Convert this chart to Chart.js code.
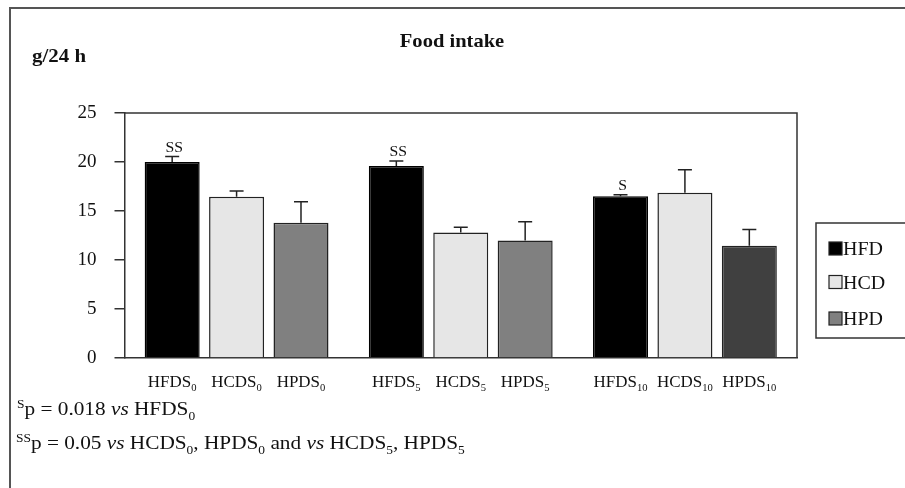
<!DOCTYPE html>
<html>
<head>
<meta charset="utf-8">
<script src="https://cdn.jsdelivr.net/npm/chart.js@4.4.1/dist/chart.umd.min.js"></script>
<style>
  html, body { margin: 0; padding: 0; background: #fff; }
  #wrap { width: 905px; height: 488px; position: relative; }
</style>
</head>
<body>
<div id="wrap"><canvas id="chart" width="905" height="488"></canvas></div>
<script>
// Food intake (g/24 h) per diet group at S0, S5, S10
const weeks = ['0', '5', '10'];
const diets = ['HFD', 'HCD', 'HPD'];
const hfdMeans = [20.0, 19.6, 16.5];
const hcdMeans = [16.45, 12.8, 16.85];
const hpdMeans = [13.8, 12.0, 11.45];
const hfdErrors = [0.55, 0.5, 0.15];
const hcdErrors = [0.6, 0.55, 2.35];
const hpdErrors = [2.15, 1.9, 1.65];
const hfdMarks = ['SS', 'SS', 'S'];
const yTicks = [0, 5, 10, 15, 20, 25];

const SERIF = '"Liberation Serif", "Times New Roman", serif';
const INK = '#222';

/**
 * Draw a run of text pieces (normal / sub / sup / italic), stretched by sx
 */
function drawRich(ctx, parts, x, y, size, align, sx = 1) {
  const fontFor = (p) => {
    const s = p.sub || p.sup ? Math.round(size * 0.62) : size;
    return `${p.italic ? 'italic ' : ''}${p.bold ? 'bold ' : ''}${s}px ${SERIF}`;
  };
  let total = 0;
  parts.forEach(p => {
    ctx.font = fontFor(p);
    total += ctx.measureText(p.t).width;
  });
  ctx.save();
  ctx.translate(x, 0);
  ctx.scale(sx, 1);
  let cx = align === 'center' ? -total / 2 : 0;
  ctx.textAlign = 'left';
  ctx.textBaseline = 'alphabetic';
  parts.forEach(p => {
    ctx.font = fontFor(p);
    let dy = 0;
    if (p.sub) dy = size * 0.25;
    if (p.sup) dy = -size * 0.38;
    ctx.fillText(p.t, cx, y + dy);
    cx += ctx.measureText(p.t).width;
  });
  ctx.restore();
}

const errorsByDataset = [hfdErrors, hcdErrors, hpdErrors];

const decorPlugin = {
  id: 'decor',
  afterDatasetsDraw(chart) {
    const { ctx, scales: { y } } = chart;
    ctx.save();
    chart.data.datasets.forEach((ds, di) => {
      const meta = chart.getDatasetMeta(di);
      meta.data.forEach((bar, i) => {
        const top = y.getPixelForValue(ds.data[i] + errorsByDataset[di][i]);
        // upper error bar
        ctx.strokeStyle = INK;
        ctx.lineWidth = 1.5;
        ctx.beginPath();
        ctx.moveTo(bar.x, bar.y);
        ctx.lineTo(bar.x, top);
        ctx.moveTo(bar.x - 7, top);
        ctx.lineTo(bar.x + 7, top);
        ctx.stroke();
        // significance marks
        if (di === 0) {
          ctx.fillStyle = '#111';
          drawRich(ctx, [{ t: hfdMarks[i] }], bar.x + 2, top - 5, 15, 'center', 1.05);
        }
        // bar label with subscript
        ctx.fillStyle = '#111';
        drawRich(ctx, [
          { t: diets[di] + 'S' },
          { t: weeks[i], sub: true }
        ], bar.x, 387, 16, 'center', 1.06);
      });
    });
    ctx.restore();
  },
  afterDraw(chart) {
    const { ctx, chartArea: a } = chart;
    ctx.save();
    // outer frame (top and left only)
    ctx.strokeStyle = '#555';
    ctx.lineWidth = 2;
    ctx.beginPath();
    ctx.moveTo(10, 488);
    ctx.lineTo(10, 8);
    ctx.lineTo(905, 8);
    ctx.stroke();
    // plot box top and right
    ctx.strokeStyle = '#333';
    ctx.lineWidth = 1.5;
    ctx.beginPath();
    ctx.moveTo(a.left, a.top);
    ctx.lineTo(a.right, a.top);
    ctx.lineTo(a.right, a.bottom);
    ctx.stroke();
    // titles
    ctx.fillStyle = '#111';
    drawRich(ctx, [{ t: 'Food intake', bold: true }], 452, 47, 19, 'center', 1.08);
    drawRich(ctx, [{ t: 'g/24 h', bold: true }], 32, 62, 19, 'left', 1.1);
    // legend
    ctx.strokeStyle = '#333';
    ctx.lineWidth = 1.5;
    ctx.strokeRect(816, 223, 120, 115);
    const rows = [255, 288.5, 325];
    chart.data.datasets.forEach((ds, di) => {
      ctx.fillStyle = ds.legendColor;
      ctx.fillRect(829, rows[di] - 13, 13, 13);
      ctx.strokeStyle = INK;
      ctx.lineWidth = 1.2;
      ctx.strokeRect(829, rows[di] - 13, 13, 13);
      ctx.fillStyle = '#111';
      drawRich(ctx, [{ t: ds.label }], 843, rows[di], 19, 'left', 1.05);
    });
    // footnotes
    ctx.fillStyle = '#111';
    drawRich(ctx, [
      { t: 'S', sup: true },
      { t: 'p = 0.018 ' }, { t: 'vs', italic: true }, { t: ' HFDS' }, { t: '0', sub: true }
    ], 17, 415, 19, 'left', 1.12);
    drawRich(ctx, [
      { t: 'SS', sup: true },
      { t: 'p = 0.05 ' }, { t: 'vs', italic: true }, { t: ' HCDS' }, { t: '0', sub: true },
      { t: ', HPDS' }, { t: '0', sub: true }, { t: ' and ' }, { t: 'vs', italic: true },
      { t: ' HCDS' }, { t: '5', sub: true }, { t: ', HPDS' }, { t: '5', sub: true }
    ], 16, 449, 19, 'left', 1.12);
    ctx.restore();
  }
};

new Chart(document.getElementById('chart'), {
  type: 'bar',
  data: {
    labels: weeks,
    datasets: [
      {
        label: diets[0], data: hfdMeans, backgroundColor: '#000000',
        borderColor: '#000', borderWidth: 1.5, legendColor: '#000000'
      },
      {
        label: diets[1], data: hcdMeans, backgroundColor: '#e6e6e6',
        borderColor: INK, borderWidth: 1.5, legendColor: '#e6e6e6'
      },
      {
        label: diets[2], data: hpdMeans, backgroundColor: ['#808080', '#808080', '#404040'],
        borderColor: INK, borderWidth: 1.5, legendColor: '#808080'
      }
    ]
  },
  options: {
    responsive: false,
    animation: false,
    devicePixelRatio: 1,
    layout: { padding: { top: 113, right: 108, left: 0, bottom: 0 } },
    datasets: { bar: { categoryPercentage: 0.862, barPercentage: 0.854 } },
    plugins: { legend: { display: false }, tooltip: { enabled: false } },
    scales: {
      x: {
        grid: { display: false },
        border: { display: true, color: '#333', width: 1.5 },
        ticks: { display: false },
        afterFit: (s) => { s.height = 130; }
      },
      y: {
        min: 0,
        max: 25,
        afterBuildTicks: (s) => { s.ticks = yTicks.map(v => ({ value: v })); },
        ticks: { font: { family: SERIF, size: 19 }, color: '#111', padding: 18 },
        grid: { drawOnChartArea: false, drawTicks: true, tickLength: 10, color: '#333', lineWidth: 1.5 },
        border: { display: true, color: '#333', width: 1.5 },
        afterFit: (s) => { s.width = 124.5; }
      }
    }
  },
  plugins: [decorPlugin]
});
</script>
</body>
</html>
